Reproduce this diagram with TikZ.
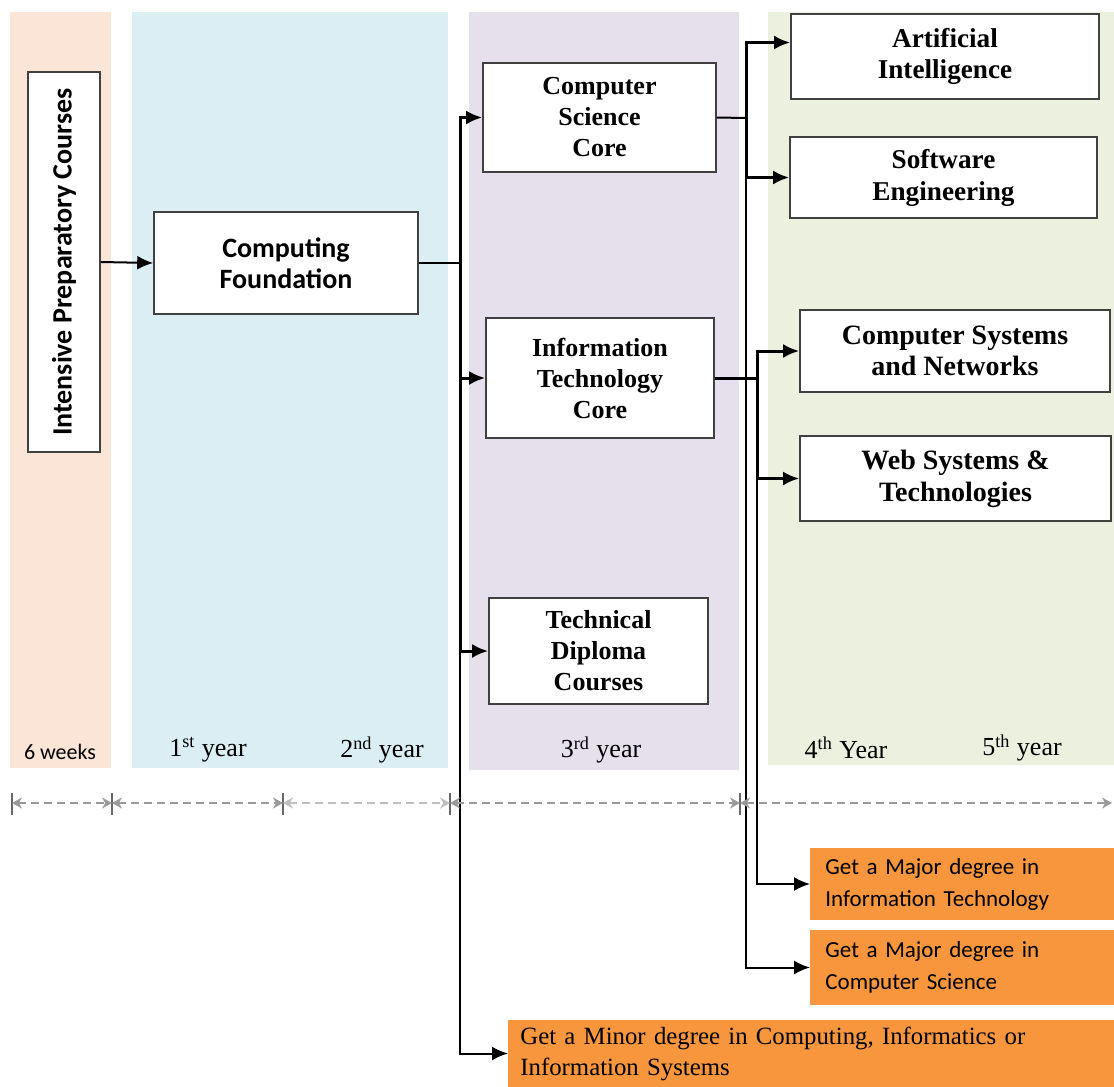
\documentclass[tikz,border=0pt]{standalone}
\usepackage{fontspec}
\setmainfont{Liberation Serif}
\newfontfamily\calib{Carlito}
\usetikzlibrary{arrows.meta,positioning}

\definecolor{peach}{HTML}{FBE5D6}
\definecolor{paleblue}{HTML}{DAEEF3}
\definecolor{lavender}{HTML}{E5E0EC}
\definecolor{palegreen}{HTML}{EBF1DE}
\definecolor{degree}{HTML}{F7963C}

\begin{document}
\begin{tikzpicture}[x=0.5pt,y=-0.5pt,
	box/.style={draw=black!75,line width=0.8pt,fill=white,align=center,inner sep=2pt},
	serifbox/.style={box,font=\fontsize{13}{15.5}\selectfont\bfseries},
	sansbox/.style={box,font=\calib\fontsize{14}{15.5}\selectfont\bfseries},
	degreebox/.style={fill=degree,align=left,anchor=west},
	bus/.style={line width=1.5pt,-{Latex[length=8pt,width=7pt]}},
	thinbus/.style={line width=1pt,-{Latex[length=8pt,width=7pt]}},
	tick/.style={draw=black!60,line width=0.9pt},
	span/.style={draw=black!40,dashed,dash pattern=on 4pt off 2.5pt,line width=1.3pt,{Stealth[length=5pt,width=5.5pt]}-{Stealth[length=5pt,width=5.5pt]}},
	yearlbl/.style={font=\fontsize{13}{15}\selectfont}
]
	\useasboundingbox (0,0) rectangle (1114,1087);
	% year columns
	\fill[peach] (10,12) rectangle (111,768);
	\fill[paleblue] (132,12) rectangle (448,768);
	\fill[lavender] (469,12) rectangle (739,770);
	\fill[palegreen] (768,12) rectangle (1114,765);

	% courses
	\node[sansbox,rotate=90,minimum width=190pt,minimum height=36pt] (prep) at (64,262) {Intensive Preparatory Courses};
	\node[sansbox,minimum width=132pt,minimum height=51pt] (found) at (286,263) {Computing\\Foundation};
	\node[serifbox,minimum width=116.5pt,minimum height=54.5pt] (cscore) at (599.5,117.5) {Computer\\Science\\Core};
	\node[serifbox,minimum width=114pt,minimum height=60pt] (itcore) at (600,378) {Information\\Technology\\Core};
	\node[serifbox,minimum width=109.5pt,minimum height=53pt] (tdc) at (598.5,651) {Technical\\Diploma\\Courses};
	\node[serifbox,font=\fontsize{13.6}{15.5}\selectfont\bfseries,minimum width=154pt,minimum height=42.5pt] (ai) at (945,56.5) {Artificial\\Intelligence};
	\node[serifbox,font=\fontsize{13.6}{16}\selectfont\bfseries,minimum width=153.5pt,minimum height=40.5pt] (se) at (943.5,177.5) {Software\\Engineering};
	\node[serifbox,font=\fontsize{14}{15.5}\selectfont\bfseries,minimum width=155pt,minimum height=41pt] (csn) at (955,351) {Computer Systems\\and Networks};
	\node[serifbox,font=\fontsize{14}{16}\selectfont\bfseries,minimum width=155.5pt,minimum height=42.5pt] (web) at (955.5,478.5) {Web Systems \&\\Technologies};

	% degrees
	\node[degreebox,font=\calib\fontsize{11.5}{16}\selectfont,inner xsep=7.5pt,text width=137pt,minimum height=36pt] (majit) at (810,884) {Get a Major degree in\\Information Technology};
	\node[degreebox,font=\calib\fontsize{11.5}{16}\selectfont,inner xsep=7.5pt,text width=137pt,minimum height=37.5pt] (majcs) at (810,967.5) {Get a Major degree in\\Computer Science};
	\node[degreebox,font=\fontsize{12.4}{15.5}\selectfont,inner xsep=6pt,text width=291pt,minimum height=33.5pt] (minor) at (508,1053.5) {Get a Minor degree in Computing, Informatics or\\Information Systems};

	% connectors
	\coordinate (b1) at (460,263);
	\coordinate (b2) at (746,118);
	\coordinate (b3) at (757,378);
	\draw[thinbus] (prep.south) -- (found.west);
	\draw[line width=1pt] (found.east) -- (b1);
	\draw[thinbus] (b1) |- (minor.west);
	\draw[bus] (b1) |- (cscore.west);
	\draw[bus] (b1) |- (itcore.west);
	\draw[bus] (b1) |- (tdc.west);
	\draw[line width=1pt] (cscore.east) -- (b2);
	\draw[thinbus] (b2) |- (majcs.west);
	\draw[bus] (b2) |- ([yshift=7pt]ai.west);
	\draw[bus] (b2) |- (se.west);
	\draw[line width=1.5pt] (itcore.east) -- (b3);
	\draw[thinbus] (b3) |- (majit.west);
	\draw[bus] (b3) |- (csn.west);
	\draw[bus] (b3) |- (web.west);

	% time line
	\foreach \x [count=\i from 0] in {12,112,283,450,740} {
		\coordinate (t\i) at (\x,803);
		\draw[tick] (\x,793) -- (\x,815);
	}
	\coordinate (t5) at (1112,803);
	\draw[span] (t0) -- (t1);
	\draw[span] (t1) -- (t2);
	\draw[span,draw=black!25] (t2) -- (t3);
	\draw[span] (t3) -- (t4);
	\draw[span] (t4) -- (t5);

	\node[font=\calib\fontsize{11}{12}\selectfont] (wk) at (60,752) {6 weeks};
	\node[yearlbl] (y1) at (208,750) {1\textsuperscript{st} year};
	\node[yearlbl] (y2) at (382,750) {2\textsuperscript{nd} year};
	\node[yearlbl] (y3) at (601,750) {3\textsuperscript{rd} year};
	\node[yearlbl] (y4) at (846,748) {4\textsuperscript{th} Year};
	\node[yearlbl] (y5) at (1022,748) {5\textsuperscript{th} year};
\end{tikzpicture}
\end{document}
